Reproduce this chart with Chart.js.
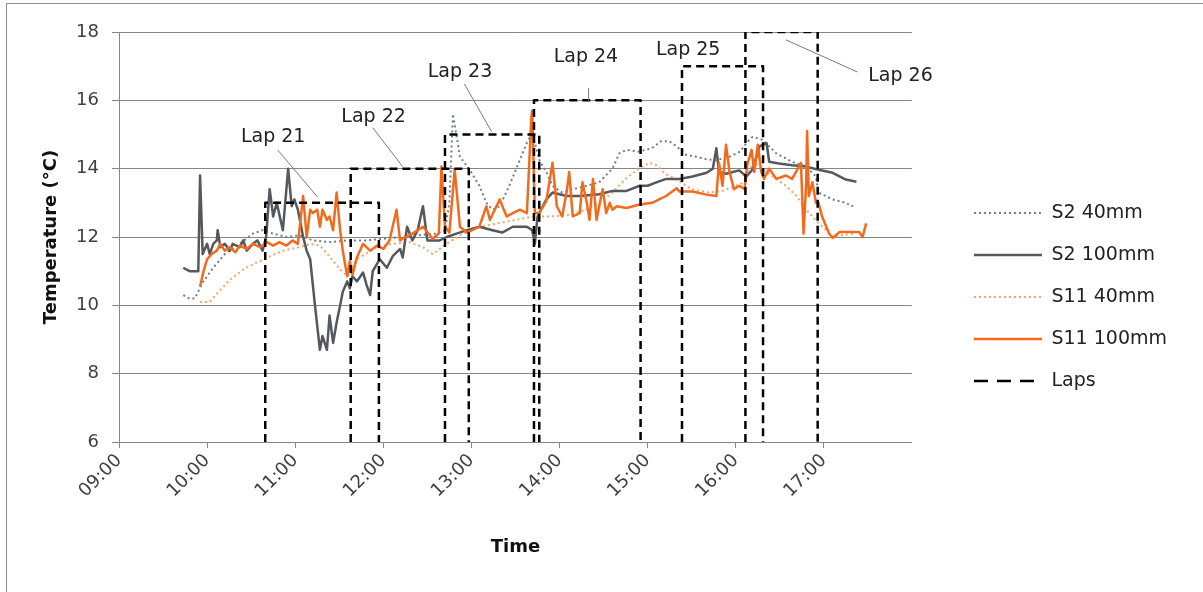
<!DOCTYPE html>
<html lang="en">
<head>
<meta charset="UTF-8">
<title>Temperature over the day</title>
<script src="https://cdn.jsdelivr.net/npm/chart.js"></script>
<style>
  body { margin: 0; background: #fff; }
  #wrap { width: 1203px; height: 592px; }
</style>
</head>
<body>
<div id="wrap"><canvas id="chart" width="1203" height="592"></canvas></div>
<script>
// [time in decimal hours, temperature in °C]
const s2_40 = [[9.73,10.3],[9.80,10.2],[9.86,10.2],[9.95,10.67],[10.07,11.1],[10.20,11.5],[10.37,11.8],[10.52,12.1],[10.63,12.2],[10.75,12.1],[10.90,12.0],[11.05,12.05],[11.20,11.9],[11.40,11.85],[11.60,11.9],[11.80,11.9],[12.00,11.95],[12.20,12.0],[12.40,12.05],[12.60,12.1],[12.70,12.2],[12.75,13.0],[12.79,15.6],[12.87,14.35],[12.98,13.97],[13.09,13.5],[13.17,13.0],[13.24,12.8],[13.32,12.9],[13.43,13.5],[13.55,14.26],[13.63,14.76],[13.69,15.05],[13.77,14.26],[13.85,13.9],[13.92,13.5],[14.03,13.3],[14.15,13.4],[14.31,13.5],[14.45,13.6],[14.60,14.0],[14.68,14.45],[14.76,14.55],[14.90,14.5],[15.05,14.6],[15.15,14.8],[15.25,14.8],[15.33,14.65],[15.44,14.4],[15.55,14.35],[15.66,14.28],[15.78,14.25],[15.93,14.35],[16.05,14.5],[16.12,14.75],[16.19,14.93],[16.30,14.85],[16.46,14.45],[16.64,14.2],[16.80,14.06],[16.91,13.77],[16.94,13.3],[17.10,13.1],[17.25,13.0],[17.32,12.9],[17.35,13.0]];

const s2_100 = [[9.73,11.1],[9.80,11.0],[9.90,11.0],[9.92,13.8],[9.95,11.5],[10.00,11.8],[10.03,11.5],[10.07,11.8],[10.11,11.9],[10.12,12.2],[10.15,11.7],[10.20,11.8],[10.26,11.6],[10.29,11.8],[10.37,11.7],[10.41,11.9],[10.45,11.6],[10.52,11.8],[10.57,11.9],[10.63,11.6],[10.67,12.0],[10.71,13.4],[10.75,12.6],[10.79,13.0],[10.86,12.2],[10.92,14.0],[10.96,12.9],[10.99,13.1],[11.03,12.8],[11.09,12.0],[11.13,11.6],[11.17,11.35],[11.22,10.1],[11.28,8.7],[11.31,9.1],[11.36,8.7],[11.39,9.7],[11.43,8.9],[11.47,9.5],[11.51,10.0],[11.54,10.4],[11.59,10.7],[11.62,10.5],[11.65,10.85],[11.70,10.7],[11.77,10.96],[11.81,10.6],[11.85,10.3],[11.88,11.0],[11.96,11.35],[12.04,11.1],[12.11,11.45],[12.19,11.65],[12.22,11.4],[12.27,12.3],[12.33,11.9],[12.39,12.2],[12.45,12.9],[12.50,11.9],[12.56,11.9],[12.64,11.9],[12.72,12.0],[12.83,12.1],[12.95,12.2],[13.09,12.3],[13.24,12.2],[13.35,12.13],[13.47,12.3],[13.63,12.3],[13.69,12.2],[13.72,11.8],[13.75,12.6],[13.85,13.1],[13.92,13.3],[14.08,13.2],[14.23,13.2],[14.45,13.25],[14.60,13.35],[14.76,13.35],[14.91,13.5],[15.00,13.5],[15.10,13.6],[15.21,13.7],[15.36,13.7],[15.51,13.77],[15.67,13.88],[15.74,14.0],[15.78,14.6],[15.81,13.9],[15.89,13.85],[16.04,13.95],[16.12,13.77],[16.19,13.97],[16.27,14.65],[16.35,14.75],[16.38,14.2],[16.49,14.15],[16.64,14.1],[16.80,14.06],[16.94,13.97],[17.10,13.88],[17.25,13.68],[17.37,13.62]];

const s11_40 = [[9.92,10.1],[10.03,10.1],[10.15,10.45],[10.26,10.75],[10.41,11.05],[10.56,11.25],[10.71,11.43],[10.86,11.6],[11.05,11.7],[11.17,11.8],[11.28,11.75],[11.39,11.43],[11.51,11.05],[11.59,10.85],[11.70,11.35],[11.92,11.7],[12.10,11.8],[12.30,11.85],[12.45,11.7],[12.56,11.5],[12.72,11.8],[12.90,12.1],[13.10,12.3],[13.30,12.4],[13.50,12.5],[13.70,12.6],[13.90,12.6],[14.10,12.65],[14.30,12.8],[14.45,13.0],[14.60,13.3],[14.75,13.7],[14.90,14.0],[15.02,14.17],[15.10,14.1],[15.20,13.85],[15.33,13.68],[15.50,13.4],[15.70,13.3],[15.85,13.35],[16.00,13.5],[16.10,13.6],[16.20,14.2],[16.30,14.0],[16.46,13.7],[16.57,13.5],[16.69,13.2],[16.80,12.8],[16.94,12.4],[17.03,12.2],[17.10,12.0],[17.20,12.05],[17.35,12.1]];

const s11_100 = [[9.92,10.55],[9.96,11.0],[10.00,11.35],[10.05,11.5],[10.11,11.6],[10.15,11.8],[10.20,11.6],[10.26,11.7],[10.32,11.55],[10.37,11.75],[10.45,11.65],[10.52,11.8],[10.60,11.7],[10.68,11.85],[10.75,11.75],[10.82,11.85],[10.90,11.75],[10.97,11.9],[11.03,11.8],[11.09,13.2],[11.13,12.0],[11.17,12.8],[11.20,12.7],[11.25,12.8],[11.28,12.3],[11.31,12.8],[11.36,12.5],[11.39,12.6],[11.43,12.2],[11.47,13.3],[11.51,12.2],[11.54,11.6],[11.59,10.85],[11.62,11.3],[11.65,10.9],[11.70,11.4],[11.77,11.8],[11.85,11.6],[11.93,11.75],[12.00,11.65],[12.07,11.9],[12.15,12.8],[12.19,11.9],[12.22,11.95],[12.33,12.1],[12.45,12.3],[12.56,11.95],[12.63,12.1],[12.66,14.06],[12.70,12.3],[12.75,12.13],[12.81,13.97],[12.87,12.3],[12.95,12.13],[13.01,12.2],[13.09,12.3],[13.17,12.9],[13.21,12.5],[13.32,13.1],[13.40,12.6],[13.47,12.7],[13.55,12.8],[13.63,12.7],[13.68,15.5],[13.69,15.7],[13.72,12.7],[13.77,12.7],[13.85,13.05],[13.92,14.17],[13.97,12.9],[14.03,12.6],[14.08,13.3],[14.11,13.9],[14.15,12.6],[14.23,12.7],[14.26,13.6],[14.31,13.0],[14.34,12.5],[14.38,13.7],[14.42,12.5],[14.45,12.9],[14.49,13.4],[14.53,12.7],[14.57,13.0],[14.60,12.8],[14.65,12.9],[14.76,12.85],[14.91,12.95],[15.05,13.0],[15.21,13.2],[15.33,13.43],[15.36,13.33],[15.51,13.33],[15.67,13.24],[15.78,13.2],[15.81,14.17],[15.85,13.5],[15.89,14.7],[15.93,13.9],[15.98,13.4],[16.04,13.5],[16.10,13.4],[16.13,14.1],[16.18,14.55],[16.21,13.9],[16.25,14.7],[16.29,13.9],[16.32,13.7],[16.38,14.0],[16.46,13.7],[16.57,13.8],[16.64,13.7],[16.74,14.17],[16.77,12.1],[16.80,13.6],[16.81,15.1],[16.83,13.2],[16.87,13.6],[16.91,13.0],[16.94,13.0],[16.98,12.6],[17.06,12.1],[17.10,11.97],[17.18,12.15],[17.29,12.15],[17.40,12.15],[17.44,12.0],[17.48,12.4]];

// laps: start / end time (hours) and the level the box is drawn at
const lapNames = ['Lap 21', 'Lap 22', 'Lap 23', 'Lap 24', 'Lap 25', 'Lap 26'];
const lapStart = [10.66, 11.63, 12.70, 13.71, 15.39, 16.11];
const lapEnd   = [11.95, 12.97, 13.77, 14.92, 16.31, 16.93];
const lapTop   = [13, 14, 15, 16, 17, 18];

// label placement in data units, and leader lines [t1, T1, t2, T2]
const lapLabelAt = [[10.75, 14.93], [11.89, 15.52], [12.87, 16.83], [14.30, 17.27], [15.46, 17.47], [17.87, 16.72]];
const lapLeader = [[10.80, 14.55, 11.25, 13.18], [11.88, 15.2, 12.22, 14.06], [12.92, 16.48, 13.23, 15.08],
                   [14.33, 16.36, 14.33, 15.99], null, [16.57, 17.77, 17.38, 16.83]];

const toXY = arr => arr.map(p => ({x: p[0], y: p[1]}));

const lapPts = [];
lapStart.forEach((s, i) => {
  lapPts.push({x: s, y: 6}, {x: s, y: lapTop[i]}, {x: lapEnd[i], y: lapTop[i]}, {x: lapEnd[i], y: 6}, {x: lapEnd[i], y: null});
});

const GRID = '#868686';
Chart.defaults.font.family = '"DejaVu Sans", Verdana, sans-serif';
Chart.defaults.color = '#333';

const decor = {
  id: 'decor',
  beforeDraw(chart) {
    const c = chart.ctx;
    c.save();
    c.fillStyle = '#fff';
    c.fillRect(0, 0, chart.width, chart.height);
    c.strokeStyle = '#8c8c8c';
    c.lineWidth = 1;
    c.strokeRect(6.5, 3.5, chart.width, chart.height);
    c.restore();
  },
  afterDatasetsDraw(chart) {
    const {ctx, scales: {x, y}} = chart;
    ctx.save();
    ctx.strokeStyle = '#7a7a7a';
    ctx.lineWidth = 1;
    lapLeader.forEach(l => {
      if (!l) return;
      ctx.beginPath();
      ctx.moveTo(x.getPixelForValue(l[0]), y.getPixelForValue(l[1]));
      ctx.lineTo(x.getPixelForValue(l[2]), y.getPixelForValue(l[3]));
      ctx.stroke();
    });
    ctx.font = '19px "DejaVu Sans", Verdana, sans-serif';
    ctx.fillStyle = '#222';
    ctx.textAlign = 'center';
    ctx.textBaseline = 'middle';
    lapNames.forEach((n, i) => {
      ctx.fillText(n, x.getPixelForValue(lapLabelAt[i][0]), y.getPixelForValue(lapLabelAt[i][1]));
    });
    ctx.restore();
  }
};

new Chart(document.getElementById('chart'), {
  type: 'line',
  data: {
    datasets: [
      { label: 'S2 40mm', data: toXY(s2_40), borderColor: '#6e7d8c', borderWidth: 2, borderDash: [2, 3], order: 4 },
      { label: 'S2 100mm', data: toXY(s2_100), borderColor: '#55595e', borderWidth: 2.5, order: 2 },
      { label: 'S11 40mm', data: toXY(s11_40), borderColor: '#f4a46c', borderWidth: 2, borderDash: [2, 3], order: 3 },
      { label: 'S11 100mm', data: toXY(s11_100), borderColor: '#f26b1d', borderWidth: 2.5, order: 1 },
      { label: 'Laps', data: lapPts, borderColor: '#000', borderWidth: 2.5, borderDash: [8, 5], spanGaps: false, order: 0 }
    ]
  },
  options: {
    responsive: false,
    animation: false,
    devicePixelRatio: 1,
    elements: { point: { radius: 0 }, line: { tension: 0, fill: false, borderJoinStyle: 'round' } },
    layout: { padding: { top: 32, right: 26, bottom: 30, left: 0 } },
    plugins: {
      tooltip: { enabled: false },
      legend: {
        position: 'right',
        maxWidth: 320,
        labels: {
          usePointStyle: true,
          pointStyle: 'line',
          pointStyleWidth: 68,
          padding: 23,
          color: '#222',
          font: { size: 19 },
          sort: (a, b) => a.datasetIndex - b.datasetIndex,
          generateLabels(chart) {
            const items = Chart.defaults.plugins.legend.labels.generateLabels(chart);
            items.forEach(it => {
              const ds = chart.data.datasets[it.datasetIndex];
              it.strokeStyle = ds.borderColor;
              it.lineWidth = ds.borderWidth;
              it.lineDash = ds.label === 'Laps' ? [14, 9] : (ds.borderDash || []);
            });
            return items;
          }
        }
      }
    },
    scales: {
      x: {
        type: 'linear',
        min: 9, max: 18,
        afterFit(s) { s.height = 120; },
        grid: { drawOnChartArea: false, color: GRID, tickLength: 6 },
        border: { color: GRID },
        ticks: {
          stepSize: 1, autoSkip: false, minRotation: 45, maxRotation: 45, padding: 2,
          color: '#404040', font: { size: 18 },
          callback: v => v >= 18 ? null : String(v).padStart(2, '0') + ':00'
        },
        title: { display: true, text: 'Time', color: '#111', font: { size: 18, weight: 'bold' }, padding: { top: 0, bottom: 4 } }
      },
      y: {
        type: 'linear',
        min: 6, max: 18,
        afterFit(s) { s.width = 119; },
        grid: { color: GRID, tickLength: 7 },
        border: { color: GRID },
        ticks: { stepSize: 2, padding: 13, color: '#404040', font: { size: 18 } },
        title: { display: true, text: 'Temperature (°C)', color: '#111', font: { size: 18, weight: 'bold' }, padding: { top: 41 } }
      },
      gap: {
        type: 'linear', axis: 'y', position: 'right', display: true,
        afterFit(s) { s.width = 39; },
        grid: { display: false }, border: { display: false }, ticks: { display: false }
      }
    }
  },
  plugins: [decor]
});
</script>
</body>
</html>
